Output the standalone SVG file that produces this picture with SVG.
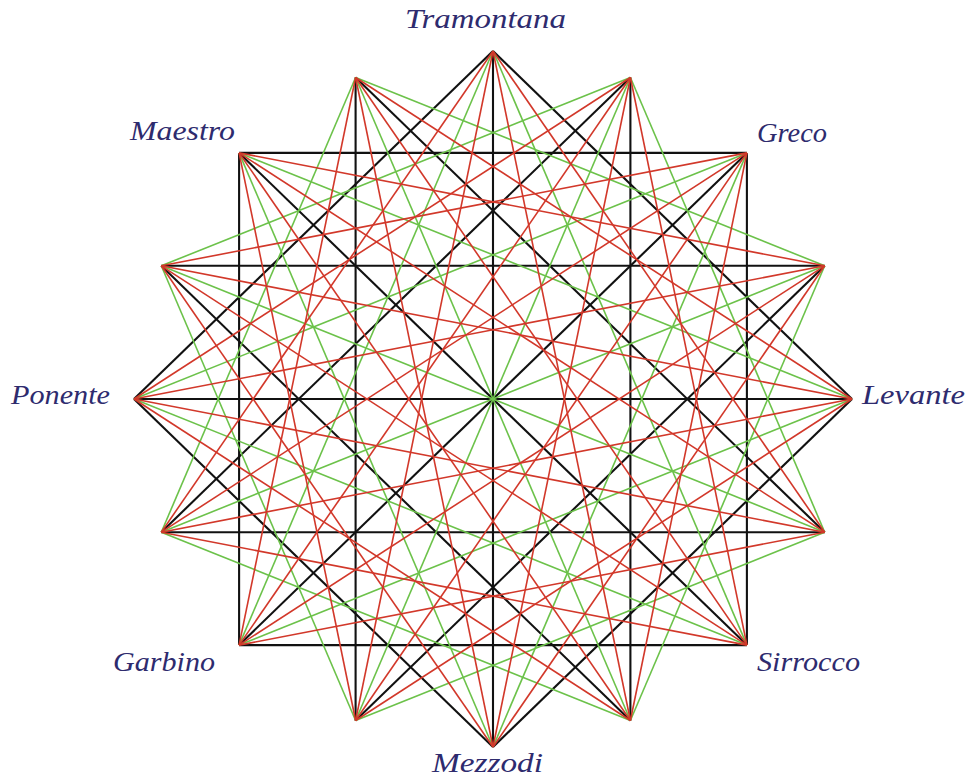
<svg xmlns="http://www.w3.org/2000/svg" width="970" height="778" viewBox="0 0 970 778">
<style>
.k{stroke:#111;stroke-width:2.1;fill:none}
.g{stroke:#6cc24a;stroke-width:1.6;fill:none}
.r{stroke:#d2382a;stroke-width:1.6;fill:none}
.lbl{font-family:"Liberation Serif","DejaVu Serif",serif;font-style:italic;font-size:27px;fill:#2e2b6e}
</style>
<rect width="970" height="778" fill="#fff"/>
<g id="connectors">
<g id="black">
<line class="k" x1="493" y1="51" x2="852" y2="399"/>
<line class="k" x1="746.9" y1="152.9" x2="746.9" y2="645.1"/>
<line class="k" x1="852" y1="399" x2="493" y2="747"/>
<line class="k" x1="746.9" y1="645.1" x2="239.1" y2="645.1"/>
<line class="k" x1="493" y1="747" x2="134" y2="399"/>
<line class="k" x1="239.1" y1="645.1" x2="239.1" y2="152.9"/>
<line class="k" x1="134" y1="399" x2="493" y2="51"/>
<line class="k" x1="239.1" y1="152.9" x2="746.9" y2="152.9"/>
<line class="k" x1="630.4" y1="77.5" x2="630.4" y2="720.5"/>
<line class="k" x1="824.7" y1="265.8" x2="355.6" y2="720.5"/>
<line class="k" x1="824.7" y1="532.2" x2="161.3" y2="532.2"/>
<line class="k" x1="630.4" y1="720.5" x2="161.3" y2="265.8"/>
<line class="k" x1="355.6" y1="720.5" x2="355.6" y2="77.5"/>
<line class="k" x1="161.3" y1="532.2" x2="630.4" y2="77.5"/>
<line class="k" x1="161.3" y1="265.8" x2="824.7" y2="265.8"/>
<line class="k" x1="355.6" y1="77.5" x2="824.7" y2="532.2"/>
<line class="k" x1="493" y1="51" x2="493" y2="747"/>
<line class="k" x1="746.9" y1="152.9" x2="239.1" y2="645.1"/>
<line class="k" x1="852" y1="399" x2="134" y2="399"/>
<line class="k" x1="746.9" y1="645.1" x2="239.1" y2="152.9"/>
</g>
<g id="green">
<line class="g" x1="630.4" y1="77.5" x2="824.7" y2="532.2"/>
<line class="g" x1="824.7" y1="265.8" x2="630.4" y2="720.5"/>
<line class="g" x1="824.7" y1="532.2" x2="355.6" y2="720.5"/>
<line class="g" x1="630.4" y1="720.5" x2="161.3" y2="532.2"/>
<line class="g" x1="355.6" y1="720.5" x2="161.3" y2="265.8"/>
<line class="g" x1="161.3" y1="532.2" x2="355.6" y2="77.5"/>
<line class="g" x1="161.3" y1="265.8" x2="630.4" y2="77.5"/>
<line class="g" x1="355.6" y1="77.5" x2="824.7" y2="265.8"/>
<line class="g" x1="493" y1="51" x2="746.9" y2="645.1"/>
<line class="g" x1="746.9" y1="152.9" x2="493" y2="747"/>
<line class="g" x1="852" y1="399" x2="239.1" y2="645.1"/>
<line class="g" x1="746.9" y1="645.1" x2="134" y2="399"/>
<line class="g" x1="493" y1="747" x2="239.1" y2="152.9"/>
<line class="g" x1="239.1" y1="645.1" x2="493" y2="51"/>
<line class="g" x1="134" y1="399" x2="746.9" y2="152.9"/>
<line class="g" x1="239.1" y1="152.9" x2="852" y2="399"/>
<line class="g" x1="630.4" y1="77.5" x2="355.6" y2="720.5"/>
<line class="g" x1="824.7" y1="265.8" x2="161.3" y2="532.2"/>
<line class="g" x1="824.7" y1="532.2" x2="161.3" y2="265.8"/>
<line class="g" x1="630.4" y1="720.5" x2="355.6" y2="77.5"/>
</g>
<g id="red">
<line class="r" x1="493" y1="51" x2="824.7" y2="532.2"/>
<line class="r" x1="630.4" y1="77.5" x2="746.9" y2="645.1"/>
<line class="r" x1="746.9" y1="152.9" x2="630.4" y2="720.5"/>
<line class="r" x1="824.7" y1="265.8" x2="493" y2="747"/>
<line class="r" x1="852" y1="399" x2="355.6" y2="720.5"/>
<line class="r" x1="824.7" y1="532.2" x2="239.1" y2="645.1"/>
<line class="r" x1="746.9" y1="645.1" x2="161.3" y2="532.2"/>
<line class="r" x1="630.4" y1="720.5" x2="134" y2="399"/>
<line class="r" x1="493" y1="747" x2="161.3" y2="265.8"/>
<line class="r" x1="355.6" y1="720.5" x2="239.1" y2="152.9"/>
<line class="r" x1="239.1" y1="645.1" x2="355.6" y2="77.5"/>
<line class="r" x1="161.3" y1="532.2" x2="493" y2="51"/>
<line class="r" x1="134" y1="399" x2="630.4" y2="77.5"/>
<line class="r" x1="161.3" y1="265.8" x2="746.9" y2="152.9"/>
<line class="r" x1="239.1" y1="152.9" x2="824.7" y2="265.8"/>
<line class="r" x1="355.6" y1="77.5" x2="852" y2="399"/>
<line class="r" x1="493" y1="51" x2="630.4" y2="720.5"/>
<line class="r" x1="630.4" y1="77.5" x2="493" y2="747"/>
<line class="r" x1="746.9" y1="152.9" x2="355.6" y2="720.5"/>
<line class="r" x1="824.7" y1="265.8" x2="239.1" y2="645.1"/>
<line class="r" x1="852" y1="399" x2="161.3" y2="532.2"/>
<line class="r" x1="824.7" y1="532.2" x2="134" y2="399"/>
<line class="r" x1="746.9" y1="645.1" x2="161.3" y2="265.8"/>
<line class="r" x1="630.4" y1="720.5" x2="239.1" y2="152.9"/>
<line class="r" x1="493" y1="747" x2="355.6" y2="77.5"/>
<line class="r" x1="355.6" y1="720.5" x2="493" y2="51"/>
<line class="r" x1="239.1" y1="645.1" x2="630.4" y2="77.5"/>
<line class="r" x1="161.3" y1="532.2" x2="746.9" y2="152.9"/>
<line class="r" x1="134" y1="399" x2="824.7" y2="265.8"/>
<line class="r" x1="161.3" y1="265.8" x2="852" y2="399"/>
<line class="r" x1="239.1" y1="152.9" x2="824.7" y2="532.2"/>
<line class="r" x1="355.6" y1="77.5" x2="746.9" y2="645.1"/>
</g>
</g>
<g id="tramontana"><text class="lbl" x="405" y="28" textLength="161" lengthAdjust="spacingAndGlyphs">Tramontana</text></g>
<g id="maestro"><text class="lbl" x="130" y="140" textLength="105" lengthAdjust="spacingAndGlyphs">Maestro</text></g>
<g id="greco"><text class="lbl" x="757" y="142" textLength="70" lengthAdjust="spacingAndGlyphs">Greco</text></g>
<g id="ponente"><text class="lbl" x="11" y="404" textLength="99" lengthAdjust="spacingAndGlyphs">Ponente</text></g>
<g id="levante"><text class="lbl" x="862" y="404" textLength="103" lengthAdjust="spacingAndGlyphs">Levante</text></g>
<g id="garbino"><text class="lbl" x="113" y="671" textLength="102" lengthAdjust="spacingAndGlyphs">Garbino</text></g>
<g id="sirrocco"><text class="lbl" x="757" y="671" textLength="103" lengthAdjust="spacingAndGlyphs">Sirrocco</text></g>
<g id="mezzodi"><text class="lbl" x="432" y="772" font-size="26" textLength="111" lengthAdjust="spacingAndGlyphs">Mezzodi</text></g>
</svg>
